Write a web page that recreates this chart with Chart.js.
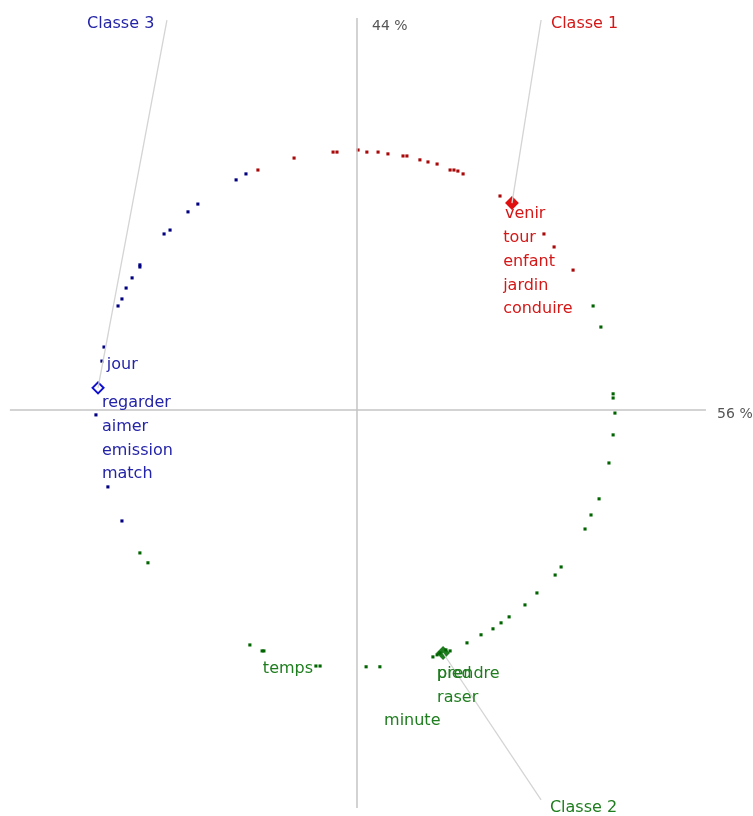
<!DOCTYPE html>
<html>
<head>
<meta charset="utf-8">
<script src="https://cdn.jsdelivr.net/npm/chart.js@4.4.0/dist/chart.umd.min.js"></script>
<style>
  body { margin: 0; background: #fff; }
  #wrap { width: 753px; height: 816px; position: relative; }
</style>
</head>
<body>
<div id="wrap"><canvas id="myChart"></canvas></div>
<script>
// coordinates: factor plane, radius of the circle ~ 100
var classe1X = [-38.1, -24.2, -9.2, -7.7, 0.4, 3.8, 8.1, 11.9, 17.7, 19.2, 24.2, 27.3, 30.8, 35.8, 37.3, 38.8, 40.8, 55.0, 71.9, 75.8, 83.1];
var classe1Y = [92.3, 96.9, 99.2, 99.2, 100, 99.2, 99.2, 98.5, 97.7, 97.7, 96.2, 95.4, 94.6, 92.3, 92.3, 91.9, 90.8, 82.3, 67.7, 62.7, 53.8];

var classe2X = [90.8, 93.8, 98.5, 98.5, 99.2, 98.5, 96.9, 93.1, 90.0, 87.7, 78.5, 76.2, 69.2, 64.6, 58.5, 55.4, 52.3, 47.7, 42.3, 35.8, 34.2, 31.9, 30.8, 29.2, 8.8, 3.5, -14.2, -15.8, -35.8, -36.5, -41.2, -80.4, -83.5];
var classe2Y = [40.0, 31.9, 6.2, 4.6, -1.2, -9.6, -20.4, -34.2, -40.4, -45.8, -60.4, -63.5, -70.4, -75.0, -79.6, -81.9, -84.2, -86.5, -89.6, -92.7, -92.3, -93.5, -94.2, -95.0, -98.8, -98.8, -98.5, -98.5, -92.7, -92.7, -90.4, -58.8, -55.0];

var classe3X = [-42.7, -46.5, -61.2, -65.0, -71.9, -74.2, -83.5, -83.5, -86.5, -88.8, -90.4, -91.9, -97.3, -98.1, -100.4, -95.8, -90.4];
var classe3Y = [90.8, 88.5, 79.2, 76.2, 69.2, 67.7, 55.8, 55.0, 50.8, 46.9, 42.7, 40.0, 24.2, 18.8, -1.9, -29.6, -42.7];

var centroidX = [59.6, 33.1, -99.6];
var centroidY = [79.6, -93.5, 8.5];

var classNames = ['Classe 1', 'Classe 2', 'Classe 3'];
var classLabelX = [74.6, 74.2, -103.8];
var classLabelY = [146.9, -154.6, 146.9];
var leaderX = [70.8, 70.8, -73.1];
var leaderY = [150, -150, 150];

var wordsText = ['venir', 'tour', 'enfant', 'jardin', 'conduire',
                 'prendre', 'pied', 'raser', 'minute', 'temps',
                 'jour', 'regarder', 'aimer', 'emission', 'match'];
var wordsClass = [0, 0, 0, 0, 0, 1, 1, 1, 1, 1, 2, 2, 2, 2, 2];
var wordsX = [56.9, 56.2, 56.2, 56.2, 56.2, 30.8, 30.8, 30.8, 10.4, -36.2, -96.2, -98.1, -98.1, -98.1, -98.1];
var wordsY = [73.8, 64.6, 55.4, 46.2, 37.3, -103.1, -103.1, -112.3, -121.2, -101.2, 15.8, 1.2, -8.1, -17.3, -26.2];

var axisNames = ['44 %', '56 %'];
var axisNameX = [5.8, 138.5];
var axisNameY = [146.2, -3.1];

var pointColors = ['#a80808', '#006400', '#000080'];
var textColors = ['#d41818', '#1e7d1e', '#2424a8'];

function pts(xs, ys) {
    return xs.map(function (x, i) { return {x: x, y: ys[i]}; });
}

var datasets = [];
// axes
datasets.push({ data: [{x: 0, y: 150.8}, {x: 0, y: -153.1}], showLine: true, borderColor: '#c4c4c4', borderWidth: 1.5, pointRadius: 0 });
datasets.push({ data: [{x: -133.5, y: 0}, {x: 134.2, y: 0}], showLine: true, borderColor: '#c4c4c4', borderWidth: 1.5, pointRadius: 0 });
// leader lines
for (var k = 0; k < 3; k++) {
    datasets.push({ data: [{x: leaderX[k], y: leaderY[k]}, {x: centroidX[k], y: centroidY[k]}], showLine: true,
        borderColor: '#d4d4d4', borderWidth: 1.3, pointRadius: 0 });
}
var series = [[classe1X, classe1Y], [classe2X, classe2Y], [classe3X, classe3Y]];
series.forEach(function (s, k) {
    datasets.push({ data: pts(s[0], s[1]), pointStyle: 'rect', pointRadius: 2.2, borderWidth: 0,
        backgroundColor: pointColors[k], borderColor: pointColors[k] });
});
// centroids
datasets.push({
    data: pts(centroidX, centroidY), pointStyle: 'rectRot', pointRadius: 5.5, borderWidth: 2,
    backgroundColor: ['#e01010', '#1e7d1e', '#ffffff'], borderColor: ['#e01010', '#1e7d1e', '#1010d0']
});

var textPlugin = {
    id: 'texts',
    afterDatasetsDraw: function (chart) {
        var c = chart.ctx, xs = chart.scales.x, ys = chart.scales.y;
        c.save();
        c.font = '16px "DejaVu Sans"';
        c.textBaseline = 'alphabetic';
        c.textAlign = 'left';
        wordsText.forEach(function (w, i) {
            c.fillStyle = textColors[wordsClass[i]];
            c.fillText(w, xs.getPixelForValue(wordsX[i]), ys.getPixelForValue(wordsY[i]));
        });
        classNames.forEach(function (n, i) {
            c.fillStyle = textColors[i];
            c.fillText(n, xs.getPixelForValue(classLabelX[i]), ys.getPixelForValue(classLabelY[i]));
        });
        c.font = '14px "DejaVu Sans"';
        c.fillStyle = '#555555';
        axisNames.forEach(function (n, i) {
            c.fillText(n, xs.getPixelForValue(axisNameX[i]), ys.getPixelForValue(axisNameY[i]));
        });
        c.restore();
    }
};

var ctx = document.getElementById('myChart').getContext('2d');
var myChart = new Chart(ctx, {
    type: 'scatter',
    data: { datasets: datasets },
    options: {
        responsive: true,
        maintainAspectRatio: false,
        animation: false,
        layout: { padding: 0, autoPadding: false },
        plugins: { legend: { display: false }, tooltip: { enabled: false } },
        scales: {
            x: { type: 'linear', min: -137.3, max: 152.3, display: false },
            y: { type: 'linear', min: -156.2, max: 157.7, display: false }
        }
    },
    plugins: [textPlugin]
});
</script>
</body>
</html>
